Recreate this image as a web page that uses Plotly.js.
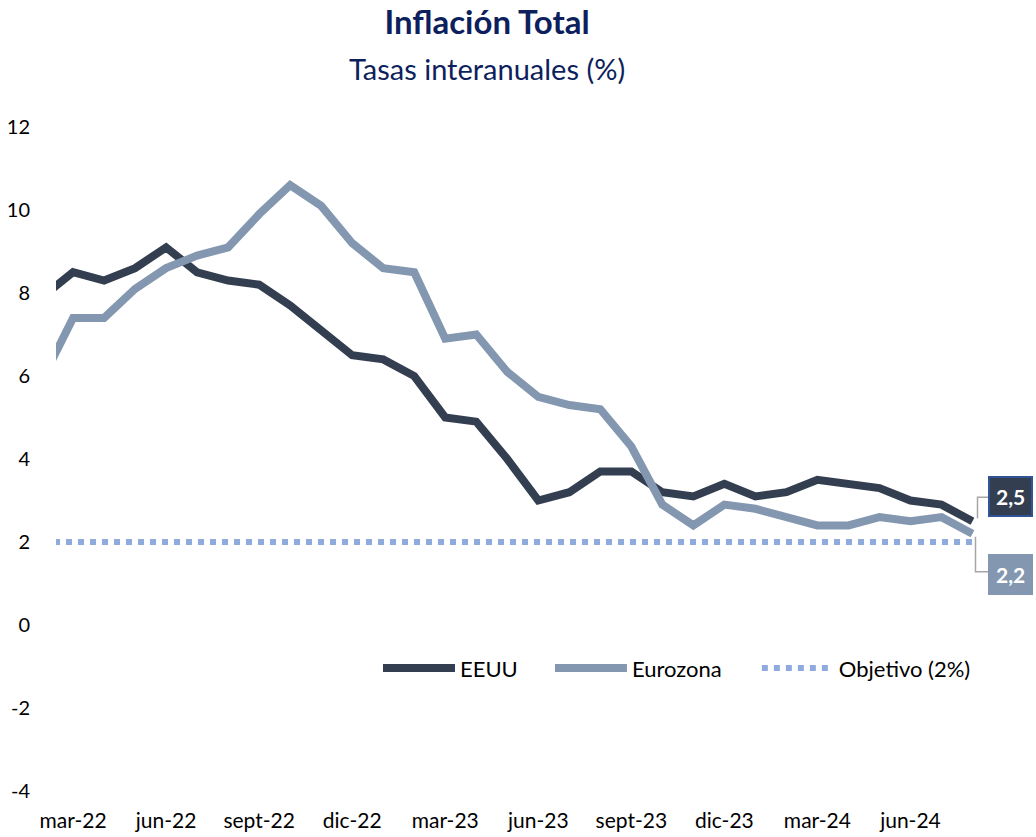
<!DOCTYPE html>
<html>
<head>
<meta charset="utf-8">
<script src="https://cdn.plot.ly/plotly-3.0.1.min.js"></script>
<style>
html,body{margin:0;padding:0;background:#fff;}
#chart{width:1036px;height:837px;}
</style>
</head>
<body>
<div id="chart"></div>
<script>
// Months (feb-22 .. ago-24); feb-22 sits just left of the visible area
const months = ['feb-22','mar-22','abr-22','may-22','jun-22','jul-22','ago-22','sept-22','oct-22','nov-22','dic-22',
  'ene-23','feb-23','mar-23','abr-23','may-23','jun-23','jul-23','ago-23','sept-23','oct-23','nov-23','dic-23',
  'ene-24','feb-24','mar-24','abr-24','may-24','jun-24','jul-24','ago-24'];
const eeuu = [7.9,8.5,8.3,8.6,9.1,8.5,8.3,8.2,7.7,7.1,6.5,
  6.4,6.0,5.0,4.9,4.0,3.0,3.2,3.7,3.7,3.2,3.1,3.4,
  3.1,3.2,3.5,3.4,3.3,3.0,2.9,2.5];
const eurozona = [5.9,7.4,7.4,8.1,8.6,8.9,9.1,9.9,10.6,10.1,9.2,
  8.6,8.5,6.9,7.0,6.1,5.5,5.3,5.2,4.3,2.9,2.4,2.9,
  2.8,2.6,2.4,2.4,2.6,2.5,2.6,2.2];
const objetivo = [2,2,2,2,2,2,2,2,2,2,2,
  2,2,2,2,2,2,2,2,2,2,2,2,
  2,2,2,2,2,2,2,2];
const xTickLabels = ['mar-22','jun-22','sept-22','dic-22','mar-23','jun-23','sept-23','dic-23','mar-24','jun-24'];
const yTickVals = [-4,-2,0,2,4,6,8,10,12];
const yTickText = ['-4','-2','0','2','4','6','8','10','12'];

const cEEUU = '#333f50', cEZ = '#8497b0', cObj = '#8faadc';
const FONT = 'Lato, "Open Sans", sans-serif';

const traces = [
  {x: months, y: eeuu, name: 'EEUU', type: 'scatter', mode: 'lines', legend: 'legend',
   line: {color: cEEUU, width: 8}},
  {x: months, y: eurozona, name: 'Eurozona', type: 'scatter', mode: 'lines', legend: 'legend2',
   line: {color: cEZ, width: 8}},
  {x: months, y: objetivo, name: 'Objetivo (2%)', type: 'scatter', mode: 'lines', legend: 'legend3',
   line: {color: cObj, width: 6, dash: 'dot'}}
];

const lastIdx = months.length - 1;
const fmt = v => v.toFixed(1).replace('.', ',');

function leg(x) {
  return {orientation: 'h', x: x, xanchor: 'left', y: 0.185, yanchor: 'middle',
    font: {family: FONT, size: 22, color: '#000'}, itemwidth: 72,
    bgcolor: 'rgba(0,0,0,0)'};
}

const layout = {
  width: 1036, height: 837,
  margin: {l: 56, r: 48, t: 127, b: 46},
  paper_bgcolor: '#fff', plot_bgcolor: '#fff',
  font: {family: FONT, size: 20, color: '#000'},
  showlegend: true,
  legend: leg(0.3455),
  legend2: leg(0.530),
  legend3: leg(0.752),
  title: {text: '<b>Inflación Total</b>', font: {family: FONT, size: 33, color: '#0d1f5c'},
    xref: 'paper', x: 0.4625, xanchor: 'center', y: 0.973, yanchor: 'middle', yref: 'container'},
  xaxis: {type: 'category', categoryorder: 'array', categoryarray: months,
    range: [0.45, lastIdx + 0.5], showgrid: false, zeroline: false, showline: false,
    tickmode: 'array', tickvals: xTickLabels, ticktext: xTickLabels,
    ticks: 'outside', ticklen: 11, tickcolor: 'rgba(0,0,0,0)',
    tickfont: {family: FONT, size: 21, color: '#000'}, fixedrange: true},
  yaxis: {range: [-4, 12], tickmode: 'array', tickvals: yTickVals, ticktext: yTickText,
    showgrid: false, zeroline: false, showline: false,
    ticks: 'outside', ticklen: 21, tickcolor: 'rgba(0,0,0,0)',
    tickfont: {family: FONT, size: 20, color: '#000'}, fixedrange: true},
  annotations: [
    {text: 'Tasas interanuales (%)', xref: 'paper', yref: 'paper', x: 0.4625, y: (837-68-46)/664,
     xanchor: 'center', yanchor: 'middle', showarrow: false,
     font: {family: FONT, size: 29, color: '#0d1f5c'}},
    {text: '<b>' + fmt(eeuu[lastIdx]) + '</b>', xref: 'x', yref: 'y', x: months[lastIdx], y: eeuu[lastIdx],
     xshift: 38, yshift: 25, showarrow: false, bgcolor: cEEUU, bordercolor: '#2f5597', borderwidth: 2,
     borderpad: 6, font: {family: FONT, size: 21, color: '#fff'}},
    {text: '<b>' + fmt(eurozona[lastIdx]) + '</b>', xref: 'x', yref: 'y', x: months[lastIdx], y: eurozona[lastIdx],
     xshift: 38, yshift: -41, showarrow: false, bgcolor: cEZ, bordercolor: cEZ, borderwidth: 2,
     borderpad: 6, font: {family: FONT, size: 21, color: '#fff'}}
  ],
  shapes: [
    {type: 'path', xref: 'x', yref: 'y', xsizemode: 'pixel', ysizemode: 'pixel',
     xanchor: months[lastIdx], yanchor: eeuu[lastIdx], path: 'M5,3 V24 H16',
     line: {color: '#a6a6a6', width: 1.5}, layer: 'below'},
    {type: 'path', xref: 'x', yref: 'y', xsizemode: 'pixel', ysizemode: 'pixel',
     xanchor: months[lastIdx], yanchor: eurozona[lastIdx], path: 'M3,-3 V-38 H16',
     line: {color: '#a6a6a6', width: 1.5}, layer: 'below'}
  ]
};

Plotly.newPlot('chart', traces, layout, {staticPlot: true, displayModeBar: false});
</script>
</body>
</html>
